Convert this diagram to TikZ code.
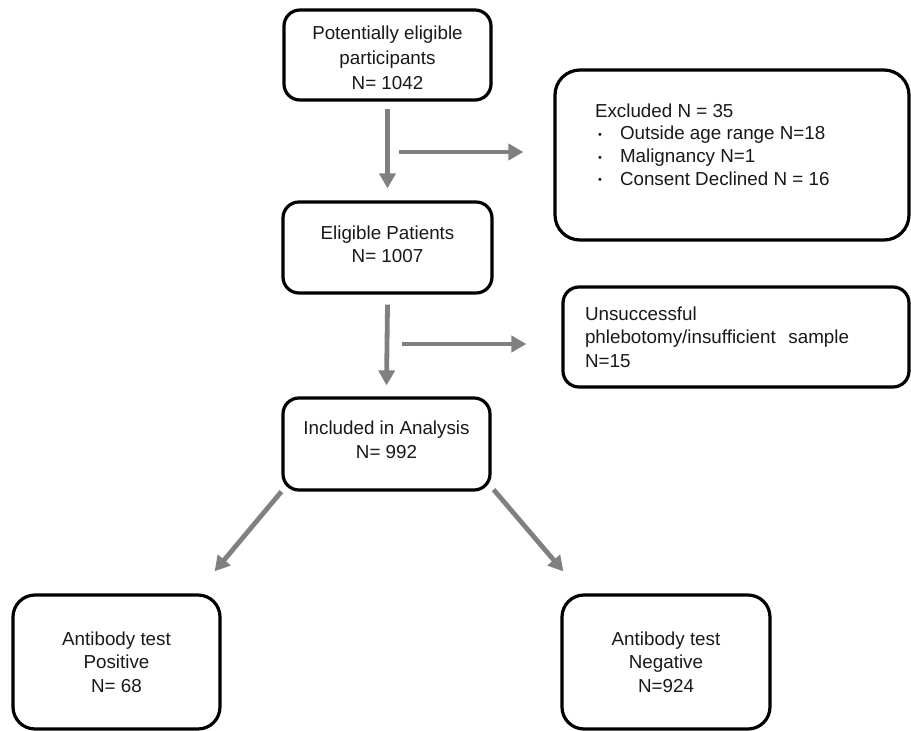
\documentclass[tikz,border=0pt]{standalone}
\usepackage{fontspec}
\setmainfont{Liberation Sans}
\usetikzlibrary{arrows.meta}
\definecolor{arrgray}{RGB}{128,128,128}
\definecolor{txtcol}{RGB}{25,25,25}
\begin{document}
\begin{tikzpicture}[x=1pt,y=-1pt,
  box/.style={draw=black, line width=3.2pt, rounded corners=16pt, inner sep=0pt,
    font=\fontsize{18.8}{23.3}\selectfont, text=txtcol},
  arr/.style={draw=arrgray, line width=4.8pt, -{Triangle[length=15pt,width=16pt]}}]
\useasboundingbox (0,0) rectangle (911,731);
\clip (0,0) rectangle (911,731);
\fill[white] (0,0) rectangle (911,731);

% main column
\node[box, minimum width=207pt, minimum height=90pt, align=center,
  font=\fontsize{18.8}{24.8}\selectfont] (b1) at (387.5,55)
  {\rule{0pt}{19pt}Potentially eligible\\participants\\N= 1042};
\node[box, minimum width=209pt, minimum height=91pt, align=center,
  font=\fontsize{18.8}{22.5}\selectfont] (b2) at (387.5,247.5)
  {Eligible Patients\\N= 1007\\[-15.5pt]\mbox{}};
\node[box, minimum width=207pt, minimum height=92pt, align=center,
  font=\fontsize{18.8}{24}\selectfont] (b3) at (386.5,444)
  {Included in Analysis\\N= 992\\[-16pt]\mbox{}};

% side boxes
\node[box, rounded corners=25pt, minimum width=354pt, minimum height=170pt] (excl) at (732,155)
  {\parbox[c][103pt][t]{274pt}{\fontsize{18.8}{22.7}\selectfont Excluded N = 35\\
   \hspace*{3pt}\makebox[22pt][l]{\raisebox{1.5pt}{\fontsize{11}{11}\selectfont\textbullet}}Outside age range N=18\\
   \hspace*{3pt}\makebox[22pt][l]{\raisebox{1.5pt}{\fontsize{11}{11}\selectfont\textbullet}}Malignancy N=1\\
   \hspace*{3pt}\makebox[22pt][l]{\raisebox{1.5pt}{\fontsize{11}{11}\selectfont\textbullet}}Consent Declined N = 16}};
\node[box, rounded corners=16pt, minimum width=346pt, minimum height=100pt, align=left, text width=302pt] (uns) at (736,337)
  {Unsuccessful\\phlebotomy/insufficient\ \ sample\\N=15};

% result boxes
\node[box, rounded corners=22pt, minimum width=207pt, minimum height=134pt, align=center] (pos) at (116.5,662)
  {Antibody test\\Positive\\N= 68};
\node[box, rounded corners=22pt, minimum width=208pt, minimum height=134pt, align=center] (neg) at (666,662)
  {Antibody test\\Negative\\N=924};

% connectors
\draw[arr] ([yshift=-7pt]b1.south) -- ([yshift=12pt]b2.north);
\draw[arr] ([yshift=-10pt]b2.south) -- ([yshift=11pt]b3.north);
\coordinate (h1) at (399,152);
\coordinate (h2) at (402,344);
\draw[arr, shorten >=30pt] (h1) -- (h1 -| excl.west);
\draw[arr, shorten >=35pt] (h2) -- (h2 -| uns.west);
\draw[arr] (b3.south west) -- ([shift={(-7pt,22pt)}]pos.north east);
\draw[arr] ([shift={(2pt,2pt)}]b3.south east) -- ([shift={(3pt,22pt)}]neg.north west);
\end{tikzpicture}
\end{document}
